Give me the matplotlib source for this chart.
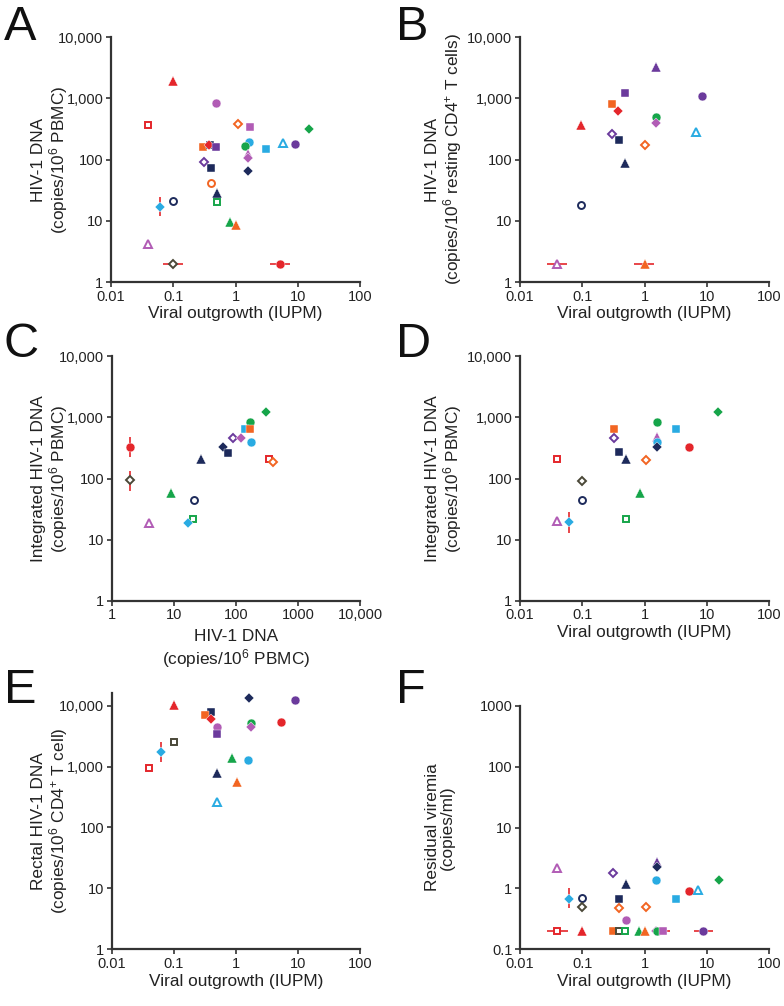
import matplotlib
matplotlib.use("Agg")
import matplotlib.pyplot as plt
from matplotlib.ticker import FixedLocator, FixedFormatter, NullLocator

plt.rcParams["font.family"] = ["Liberation Sans", "DejaVu Sans"]
plt.rcParams["mathtext.fontset"] = "custom"
plt.rcParams["mathtext.rm"] = "Liberation Sans"
plt.rcParams["mathtext.it"] = "Liberation Sans:italic"
plt.rcParams["mathtext.bf"] = "Liberation Sans:bold"

# ---------------- data ----------------
# style keys: colour_shape ; shape prefixed with "o" = open marker
A_keys = ["red_tri", "mag_circ", "red_osq", "org_odia", "mag_sq", "grn_dia", "org_sq", "navy_sq",
          "red_dia", "purp_sq", "cyan_circ", "grn_circ", "cyan_sq", "cyan_otri", "purp_circ",
          "mag_tri", "mag_dia", "purp_odia", "navy_sq", "navy_dia", "org_ocirc", "navy_tri",
          "grn_osq", "navy_ocirc", "cyan_dia", "grn_tri", "org_tri", "mag_otri", "olive_odia", "red_circ"]
A_x = [0.1, 0.49, 0.04, 1.09, 1.68, 15.3, 0.305, 0.39, 0.38, 0.49, 1.64, 1.43, 3.11, 5.77, 9.0,
       1.6, 1.57, 0.31, 0.4, 1.57, 0.4, 0.5, 0.5, 0.1, 0.061, 0.83, 1.01, 0.04, 0.1, 5.17]
A_y = [1950, 840, 362, 376, 344, 315, 162, 175, 172, 158, 196, 166, 150, 184, 181,
       125, 108, 92, 74, 65, 42, 28, 20, 21, 17, 9.4, 8.4, 4.2, 2.0, 2.0]
A_xerr = [(0.1, 2.0, 0.068, 0.142), (5.17, 2.0, 3.6, 7.6)]
A_yerr = [(0.061, 17, 11.8, 24.6)]

B_keys = ["purp_tri", "purp_sq", "purp_circ", "org_sq", "red_dia", "grn_circ", "mag_dia", "red_tri",
          "purp_odia", "navy_sq", "cyan_otri", "org_odia", "navy_tri", "navy_ocirc", "mag_otri", "org_tri"]
B_x = [1.51, 0.48, 8.5, 0.305, 0.376, 1.51, 1.54, 0.097, 0.305, 0.385, 6.73, 1.03, 0.48, 0.097, 0.039, 1.0]
B_y = [3300, 1240, 1090, 816, 619, 500, 398, 369, 266, 207, 280, 175, 88, 18, 2, 2]
B_xerr = [(0.039, 2, 0.027, 0.056), (1.0, 2, 0.68, 1.42)]
B_yerr = []

C_keys = ["grn_dia", "grn_circ", "cyan_sq", "org_sq", "cyan_circ", "purp_odia", "mag_dia", "navy_dia",
          "navy_sq", "navy_tri", "red_osq", "org_odia", "red_circ", "olive_odia", "grn_tri",
          "navy_ocirc", "mag_otri", "grn_osq", "cyan_dia"]
C_x = [308, 172, 138, 168, 177, 90.6, 119, 61.7, 73.4, 27.3, 341, 395, 2.0, 2.0, 8.95, 21.3, 3.95, 20.5, 16.8]
C_y = [1240, 830, 637, 637, 390, 466, 454, 327, 264, 208, 211, 184, 327, 93, 58, 44, 19, 21.4, 18.9]
C_xerr = []
C_yerr = [(2.0, 327, 227, 472), (2.0, 93, 63, 134)]

D_keys = ["grn_dia", "grn_circ", "org_sq", "cyan_sq", "purp_odia", "mag_tri", "cyan_circ", "navy_dia",
          "red_circ", "navy_sq", "navy_tri", "red_osq", "org_odia", "olive_odia", "grn_tri",
          "navy_ocirc", "mag_otri", "cyan_dia", "grn_osq"]
D_x = [15.4, 1.59, 0.318, 3.21, 0.318, 1.59, 1.59, 1.59, 5.26, 0.393, 0.497, 0.04, 1.07, 0.1, 0.856,
       0.1, 0.039, 0.0615, 0.497]
D_y = [1240, 830, 637, 637, 466, 471, 400, 323, 323, 268, 208, 206, 198, 92, 58.6, 44.4, 20.4, 19.1, 21.4]
D_xerr = []
D_yerr = [(0.0615, 19.1, 13, 28)]

E_keys = ["navy_dia", "purp_circ", "red_tri", "navy_sq", "org_sq", "red_dia", "grn_circ", "red_circ",
          "mag_circ", "mag_dia", "purp_sq", "olive_osq", "cyan_dia", "grn_tri", "cyan_circ",
          "red_osq", "navy_tri", "org_tri", "cyan_otri"]
E_x = [1.61, 9.07, 0.1, 0.398, 0.318, 0.4, 1.75, 5.33, 0.503, 1.75, 0.503, 0.102, 0.0623, 0.856, 1.59,
       0.04, 0.49, 1.04, 0.49]
E_y = [13100, 12300, 10400, 7800, 6970, 5920, 5270, 5480, 4480, 4430, 3480, 2540, 1740, 1400, 1300,
       940, 796, 560, 266]
E_xerr = []
E_yerr = [(0.0623, 1740, 1190, 2540)]

F_keys = ["mag_otri", "purp_odia", "purp_tri", "navy_dia", "navy_tri", "cyan_circ", "grn_dia", "red_circ",
          "cyan_otri", "cyan_sq", "navy_sq", "navy_ocirc", "cyan_dia", "olive_odia", "org_odia",
          "org_odia", "mag_circ", "red_osq", "red_tri", "org_sq", "olive_osq", "grn_osq", "grn_tri",
          "org_tri", "mag_dia", "grn_circ", "mag_sq", "purp_circ"]
F_x = [0.04, 0.315, 1.59, 1.59, 0.497, 1.55, 15.6, 5.2, 7.17, 3.17, 0.393, 0.1, 0.0623, 0.1, 0.395,
       1.07, 0.497, 0.04, 0.1, 0.31, 0.383, 0.479, 0.815, 1.0, 1.55, 1.58, 1.98, 8.74]
F_y = [2.18, 1.76, 2.73, 2.21, 1.16, 1.35, 1.35, 0.904, 0.94, 0.678, 0.678, 0.703, 0.678, 0.494, 0.482,
       0.494, 0.299, 0.2, 0.2, 0.2, 0.2, 0.2, 0.2, 0.2, 0.2, 0.2, 0.2, 0.2]
F_xerr = [(0.04, 0.2, 0.027, 0.058), (0.383, 0.2, 0.27, 0.54), (1.98, 0.2, 1.45, 2.55),
          (8.74, 0.2, 6.2, 12.6)]
F_yerr = [(0.0623, 0.678, 0.47, 1.0)]

dec_ticks = [1, 10, 100, 1000, 10000]
dec_labels = ["1", "10", "100", "1,000", "10,000"]
iupm_ticks = [0.01, 0.1, 1, 10, 100]
iupm_labels = ["0.01", "0.1", "1", "10", "100"]
dna_x_labels = ["1", "10", "100", "1000", "10,000"]
vir_ticks = [0.1, 1, 10, 100, 1000]
vir_labels = ["0.1", "1", "10", "100", "1000"]

# ---------------- styling ----------------
COLORS = dict(red="#e4262b", org="#f26522", grn="#16a54a", cyan="#29abe2", navy="#1d2a5b",
              purp="#6b3a9c", mag="#b15cb5", olive="#4a4838")
SHAPES = dict(tri="^", sq="s", circ="o", dia="D")
SIZES = dict(tri=7.8, sq=6.0, circ=6.4, dia=5.5)
OPEN_SIZES = dict(tri=6.4, sq=5.0, circ=5.0, dia=4.4)
ERR = "#e4262b"

W, H = 784, 1006
fig = plt.figure(figsize=(W / 100, H / 100), dpi=100)


def axes_px(left, top, right, bottom):
    return fig.add_axes([left / W, 1 - bottom / H, (right - left) / W, (bottom - top) / H])


def draw(ax, keys, xs, ys, xerr, yerr):
    for (x, y, lo, hi) in xerr:
        ax.plot([lo, hi], [y, y], color=ERR, lw=1.2, zorder=2, solid_capstyle="butt")
    for (x, y, lo, hi) in yerr:
        ax.plot([x, x], [lo, hi], color=ERR, lw=1.2, zorder=2, solid_capstyle="butt")
    for k, x, y in zip(keys, xs, ys):
        c, s = k.split("_")
        is_open = s.startswith("o")
        s = s[1:] if is_open else s
        if is_open:
            ax.plot([x], [y], ls="none", marker=SHAPES[s], ms=OPEN_SIZES[s], mfc="white",
                    mec=COLORS[c], mew=1.4, zorder=3)
        else:
            ax.plot([x], [y], ls="none", marker=SHAPES[s], ms=SIZES[s], mfc=COLORS[c],
                    mec="white", mew=0.3, zorder=3)


def style(ax, xt, xl, yt, yl, xlim, ylim, xlabel, ylabel, ylab_x, xpad=2):
    ax.set_xscale("log")
    ax.set_yscale("log")
    ax.set_xlim(*xlim)
    ax.set_ylim(*ylim)
    ax.xaxis.set_major_locator(FixedLocator(xt))
    ax.xaxis.set_major_formatter(FixedFormatter(xl))
    ax.yaxis.set_major_locator(FixedLocator(yt))
    ax.yaxis.set_major_formatter(FixedFormatter(yl))
    ax.xaxis.set_minor_locator(NullLocator())
    ax.yaxis.set_minor_locator(NullLocator())
    for sp in ["top", "right"]:
        ax.spines[sp].set_visible(False)
    for sp in ["left", "bottom"]:
        ax.spines[sp].set_linewidth(1.6)
        ax.spines[sp].set_color("#333333")
    ax.tick_params(axis="both", direction="out", length=3.5, width=1.2, color="#333333",
                   labelsize=10.5, labelcolor="#222222", pad=2)
    ax.set_xlabel(xlabel, fontsize=12.4, color="#222222", labelpad=xpad, linespacing=1.15)
    ax.set_ylabel(ylabel, fontsize=12.4, color="#222222", linespacing=1.05)
    ax.yaxis.set_label_coords(ylab_x, 0.5)
    ax.patch.set_alpha(0)


XL = "Viral outgrowth (IUPM)"

axA = axes_px(111, 37.2, 360, 282)
draw(axA, A_keys, A_x, A_y, A_xerr, A_yerr)
style(axA, iupm_ticks, iupm_labels, dec_ticks, dec_labels, (0.01, 100), (1, 10000), XL,
      "HIV-1 DNA\n(copies/10$^6$ PBMC)", -0.165)

axB = axes_px(520, 37.2, 769, 282)
draw(axB, B_keys, B_x, B_y, B_xerr, B_yerr)
style(axB, iupm_ticks, iupm_labels, dec_ticks, dec_labels, (0.01, 100), (1, 10000), XL,
      "HIV-1 DNA\n(copies/10$^6$ resting CD4$^{+}$ T cells)", -0.225)

axC = axes_px(111.7, 356.3, 360, 600.7)
draw(axC, C_keys, C_x, C_y, C_xerr, C_yerr)
style(axC, dec_ticks, dna_x_labels, dec_ticks, dec_labels, (1, 10000), (1, 10000),
      "HIV-1 DNA\n(copies/10$^6$ PBMC)", "Integrated HIV-1 DNA\n(copies/10$^6$ PBMC)", -0.168,
      xpad=5)

axD = axes_px(520, 356.3, 769, 600.7)
draw(axD, D_keys, D_x, D_y, D_xerr, D_yerr)
style(axD, iupm_ticks, iupm_labels, dec_ticks, dec_labels, (0.01, 100), (1, 10000), XL,
      "Integrated HIV-1 DNA\n(copies/10$^6$ PBMC)", -0.225)

axE = axes_px(111.7, 692.7, 360, 949.3)
draw(axE, E_keys, E_x, E_y, E_xerr, E_yerr)
style(axE, iupm_ticks, iupm_labels, dec_ticks, dec_labels, (0.01, 100), (1, 16300), XL,
      "Rectal HIV-1 DNA\n(copies/10$^6$ CD4$^{+}$ T cell)", -0.168)

axF = axes_px(520, 705.7, 769, 949.3)
draw(axF, F_keys, F_x, F_y, F_xerr, F_yerr)
style(axF, iupm_ticks, iupm_labels, vir_ticks, vir_labels, (0.01, 100), (0.1, 1000), XL,
      "Residual viremia\n(copies/ml)", -0.26)

for letter, px, py in [("A", 4, 40), ("B", 396, 40), ("C", 4, 357), ("D", 396, 357),
                       ("E", 4, 703), ("F", 396, 703)]:
    fig.text(px / W, 1 - py / H, letter, fontsize=35, va="baseline", ha="left", color="#111111")

fig.savefig("out.png", dpi=100)
